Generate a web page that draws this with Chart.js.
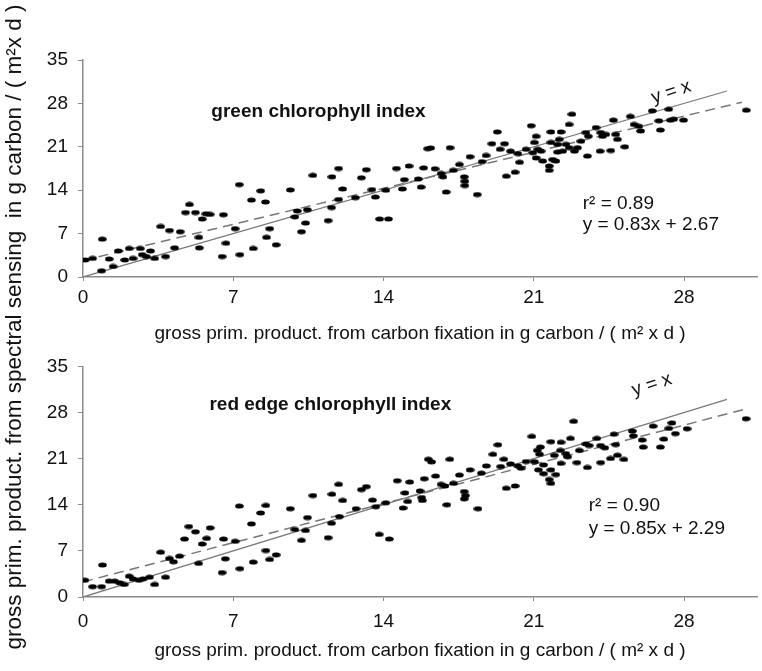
<!DOCTYPE html>
<html>
<head>
<meta charset="utf-8">
<script src="https://cdn.jsdelivr.net/npm/chart.js@4.4.1/dist/chart.umd.min.js"></script>
<style>
  body { margin: 0; background: #fff; }
  #wrap { position: relative; width: 762px; height: 671px; overflow: hidden; }
  canvas { position: absolute; left: 0; }
  #ytitle {
    position: absolute; left: -336px; top: 314px; width: 700px; height: 26px;
    line-height: 26px; text-align: center; white-space: pre;
    font: 22.5px "Liberation Sans", Arial, sans-serif; color: #111;
    transform: rotate(-90deg);
  }
</style>
</head>
<body>
<div id="wrap">
  <canvas id="topChart" width="762" height="345" style="top:0"></canvas>
  <canvas id="botChart" width="762" height="326" style="top:345px"></canvas>
  <div id="ytitle">gross prim. product. from spectral sensing  in g carbon / ( m²x d )</div>
</div>
<script>
// green chlorophyll index (top panel)
const greenX = [0.1, 0.45, 0.9, 0.87, 1.22, 1.4, 1.64, 1.95, 2.15, 2.33, 2.67, 2.76, 2.95, 3.15, 3.34, 3.85, 3.62, 4.03, 4.53, 4.27,
  4.78, 4.96, 5.24, 5.55, 5.73, 5.92, 5.4, 5.42, 6.54, 6.66, 6.48, 7.09, 7.28, 7.31, 7.85, 8.28, 8.5, 8.7, 8.55, 7.93,
  9.0, 9.66, 9.98, 9.87, 10.18, 10.45, 10.37,
  10.71, 11.42, 11.58, 11.6, 11.91, 12.1, 11.91, 12.69, 12.97, 13.2, 13.46, 13.62, 13.82, 14.23, 14.11, 14.6, 14.88, 14.97, 15.19, 15.62,
  15.75, 15.87, 16.06, 16.2, 16.4, 16.68, 16.77, 16.92, 17.1, 17.25, 17.54, 17.76, 17.79, 17.79, 18.03, 18.37, 18.59, 18.78, 19.05, 19.3,
  19.43, 19.64, 19.72, 20.13, 19.92, 20.26, 20.34, 20.64,
  20.88, 21.11, 21.03, 20.96, 21.19, 21.34, 21.42, 21.11, 21.88, 21.8, 22.27, 22.65, 22.78, 22.19, 21.8, 22.11, 22.5, 22.65, 22.35, 22.9,
  23.04, 21.72, 22.03, 21.72, 22.11, 23.2, 23.5, 23.43, 23.9, 23.54, 24.12, 24.36, 24.2, 24.82, 24.09, 24.59, 24.9, 25.24, 24.71,
  25.5, 25.67, 25.9, 25.98, 26.52, 26.83, 26.9, 27.29, 27.37, 27.52, 27.98, 30.9];
const greenY = [2.75, 3.0, 6.1, 1.0, 2.9, 1.7, 4.2, 2.75, 4.6, 3.0, 4.6, 3.6, 3.3, 4.2, 3.0, 3.3, 8.15, 7.5, 7.3, 4.7,
  10.4, 11.7, 10.4, 9.35, 10.2, 10.1, 6.4, 4.7, 10.05, 5.45, 3.3, 7.8, 14.9, 3.6, 12.4, 13.9, 12.1, 7.8, 6.4, 4.6,
  5.2, 14.05, 10.65, 9.7, 7.3, 10.85, 8.7,
  16.4, 9.1, 11.2, 16.15, 17.5, 14.2, 12.5, 12.8, 16.0, 17.3, 14.1, 12.9, 9.35, 9.35, 14.0, 17.5, 14.2, 15.7, 17.9, 15.8,
  14.5, 17.6, 20.7, 20.8, 17.45, 16.7, 16.15, 13.7, 20.85, 17.2, 18.15, 16.15, 15.45, 14.75, 19.4, 13.3, 18.6, 19.6, 21.5, 23.4,
  20.6, 21.5, 16.25, 16.9, 20.3, 19.9, 18.5, 20.6,
  24.4, 22.7, 21.7, 20.05, 20.6, 20.3, 18.7, 19.2, 18.95, 23.4, 23.4, 24.6, 26.25, 22.2, 21.7, 21.4, 21.4, 20.85, 20.3, 20.3,
  20.85, 17.9, 18.7, 17.2, 20.15, 21.9, 19.5, 23.3, 24.1, 22.7, 23.3, 23.0, 22.7, 23.0, 20.3, 20.4, 22.2, 21.0, 25.3,
  25.9, 24.6, 24.3, 23.55, 26.8, 25.2, 23.7, 27.05, 25.3, 25.45, 25.3, 26.9];

// red edge chlorophyll index (bottom panel)
const redX = [0.09, 0.45, 0.87, 0.91, 1.22, 1.48, 1.72, 1.92, 2.15, 2.33, 2.61, 2.8, 3.1, 3.34, 3.85, 3.62, 4.03, 4.22, 4.5, 4.73,
  4.93, 5.24, 5.39, 5.55, 5.76, 5.92, 6.48, 6.63, 6.55, 7.09, 7.28, 7.31, 7.85, 7.93, 8.28, 8.52, 8.52, 8.7, 9.0, 9.66,
  9.87, 10.18, 10.37, 10.46,
  10.71, 11.42, 11.58, 11.6, 11.91, 11.95, 12.1, 12.72, 12.97, 13.2, 13.49, 13.64, 13.8, 14.27, 14.11, 14.64, 14.91, 15.0, 15.13, 15.22,
  15.7, 15.78, 15.81, 15.9, 16.09, 16.24, 16.43, 16.68, 16.86, 16.95, 17.09, 17.26, 17.54, 17.76, 17.82, 17.76, 18.03, 18.4, 18.56, 18.79,
  19.1, 19.33, 19.46, 19.61, 19.72, 20.13, 19.92, 20.26, 20.41, 20.64,
  20.91, 21.31, 21.16, 21.27, 21.03, 21.46, 21.22, 21.46, 21.8, 21.72, 22.03, 21.8, 21.8, 22.27, 22.71, 22.86, 22.24, 22.5, 22.58, 22.27,
  23.01, 21.96, 23.5, 23.12, 23.43, 23.94, 23.58, 24.12, 24.31, 24.12, 24.58, 24.82, 24.9, 25.2, 24.74, 25.59, 25.64, 26.05, 26.1, 26.56,
  26.9, 27.06, 27.29, 27.44, 27.6, 28.14, 30.89];
const redY = [2.55, 1.57, 1.57, 4.85, 2.4, 2.4, 2.15, 1.9, 3.15, 2.75, 2.55, 2.75, 3.0, 1.9, 3.0, 6.8, 5.85, 5.35, 6.2, 8.8,
  10.7, 9.9, 5.1, 8.05, 8.9, 10.5, 3.7, 5.8, 8.8, 8.45, 13.8, 4.3, 11.1, 5.3, 12.75, 13.9, 7.05, 5.7, 6.4, 13.4,
  10.25, 8.6, 10.1, 12.05,
  15.4, 9.0, 11.2, 15.6, 17.1, 12.2, 14.65, 13.4, 16.3, 16.75, 14.7, 13.7, 9.5, 8.8, 14.3, 17.65, 13.5, 15.8, 14.5, 17.45,
  16.1, 15.1, 14.65, 17.95, 20.9, 20.5, 18.35, 17.1, 16.85, 14.0, 20.9, 17.25, 18.5, 16.0, 15.4, 14.9, 19.3, 13.4, 18.8, 19.9,
  21.65, 23.1, 19.8, 20.9, 16.5, 16.85, 20.2, 19.9, 19.55, 20.55,
  24.37, 22.75, 22.25, 21.67, 20.54, 20.05, 19.3, 18.72, 19.3, 17.84, 18.58, 17.25, 23.57, 23.48, 24.07, 26.66, 22.25, 21.76, 21.28, 20.29,
  20.4, 21.5, 19.66, 22.25, 23.24, 24.07, 22.99, 22.99, 22.65, 20.4, 21.03, 23.13, 21.51, 20.88, 24.71, 25.19, 24.46, 23.82, 22.75, 25.93,
  22.75, 23.97, 25.59, 26.42, 24.8, 25.54, 27.06];

// reference lines (end points)
const identityLine = [[0, 0], [30, 30]];
const greenFit = [[0, 2.67], [30.7, 28.2]];
const redFit = [[0, 2.29], [30.9, 28.55]];

const xTicks = [0, 7, 14, 21, 28];
const yTicks = [0, 7, 14, 21, 28, 35];
const xTitle = 'gross prim. product. from carbon fixation in g carbon / ( m² x d )';

const FONT = '"Liberation Sans", Arial, sans-serif';

// small black blob used as marker
function blob() {
  const c = document.createElement('canvas');
  c.width = 9; c.height = 6;
  const g = c.getContext('2d');
  g.fillStyle = '#000';
  g.beginPath();
  g.ellipse(4.5, 3, 4.3, 2.5, 0, 0, Math.PI * 2);
  g.fill();
  return c;
}
const marker = blob();

const toPts = (xs, ys) => xs.map((x, i) => ({ x: x, y: ys[i] }));
const pairPts = arr => arr.map(p => ({ x: p[0], y: p[1] }));

// draws the in-plot labels at data coordinates
const notes = {
  id: 'notes',
  afterDatasetsDraw(chart, args, opts) {
    const { ctx, scales: { x, y } } = chart;
    ctx.save();
    ctx.fillStyle = '#111';
    ctx.textBaseline = 'middle';
    opts.items.forEach(t => {
      ctx.font = (t.bold ? 'bold ' : '') + '19px ' + FONT;
      const px = x.getPixelForValue(t.x), py = y.getPixelForValue(t.y);
      ctx.save();
      ctx.translate(px, py);
      if (t.rotate) ctx.rotate(t.rotate * Math.PI / 180);
      ctx.textAlign = t.align || 'left';
      ctx.fillText(t.text, 0, 0);
      ctx.restore();
    });
    ctx.restore();
  }
};

function makeChart(id, pts, fit, o) {
  return new Chart(document.getElementById(id), {
    type: 'scatter',
    data: {
      datasets: [
        { data: pts, pointStyle: marker, pointRadius: 4, pointHoverRadius: 4 },
        { type: 'line', data: pairPts(identityLine), borderColor: '#7a7a7a', borderWidth: 1.3,
          pointRadius: 0, fill: false },
        { type: 'line', data: pairPts(fit), borderColor: '#777', borderWidth: 1.5, borderDash: [10, 6],
          pointRadius: 0, fill: false }
      ]
    },
    options: {
      responsive: false,
      animation: false,
      events: [],
      layout: { padding: { top: o.top, right: 2, left: 0, bottom: 0 } },
      plugins: { legend: { display: false }, tooltip: { enabled: false }, notes: { items: o.notes } },
      scales: {
        x: {
          type: 'linear', min: 0, max: 31.4,
          afterBuildTicks: s => { s.ticks = xTicks.map(v => ({ value: v })); },
          afterFit: s => { s.height = o.xHeight; },
          grid: { drawOnChartArea: false, drawTicks: true, tickLength: 4, color: '#888' },
          border: { color: '#8a8a8a', width: 1.5 },
          ticks: { autoSkip: false, maxRotation: 0, padding: o.xPad, color: '#111', font: { family: FONT, size: 19 } },
          title: { display: true, text: xTitle, color: '#111', font: { family: FONT, size: 19 },
                   padding: { top: 0, bottom: o.titlePad } }
        },
        y: {
          type: 'linear', min: 0, max: 35,
          afterBuildTicks: s => { s.ticks = yTicks.map(v => ({ value: v })); },
          afterFit: s => { s.width = 83; },
          grid: { drawOnChartArea: false, drawTicks: true, tickLength: 5, color: '#888' },
          border: { color: '#8a8a8a', width: 1.5 },
          ticks: { autoSkip: false, padding: 10, color: '#111', font: { family: FONT, size: 19 } }
        }
      }
    },
    plugins: [notes]
  });
}

makeChart('topChart', toPts(greenX, greenY), greenFit, {
  top: 60, xHeight: 68, xPad: 5, titlePad: 0,
  notes: [
    { text: 'green chlorophyll index', x: 5.98, y: 26.6, bold: true },
    { text: 'r² = 0.89', x: 23.28, y: 11.8 },
    { text: 'y = 0.83x + 2.67', x: 23.28, y: 8.4 },
    { text: 'y = x', x: 27.4, y: 29.8, align: 'center', rotate: -18 }
  ]
});

makeChart('botChart', toPts(redX, redY), redFit, {
  top: 15, xHeight: 74, xPad: 9, titlePad: 9,
  notes: [
    { text: 'red edge chlorophyll index', x: 5.89, y: 29.2, bold: true },
    { text: 'r² = 0.90', x: 23.56, y: 13.9 },
    { text: 'y = 0.85x + 2.29', x: 23.56, y: 10.3 },
    { text: 'y = x', x: 26.5, y: 32.2, align: 'center', rotate: -18 }
  ]
});
</script>
</body>
</html>
